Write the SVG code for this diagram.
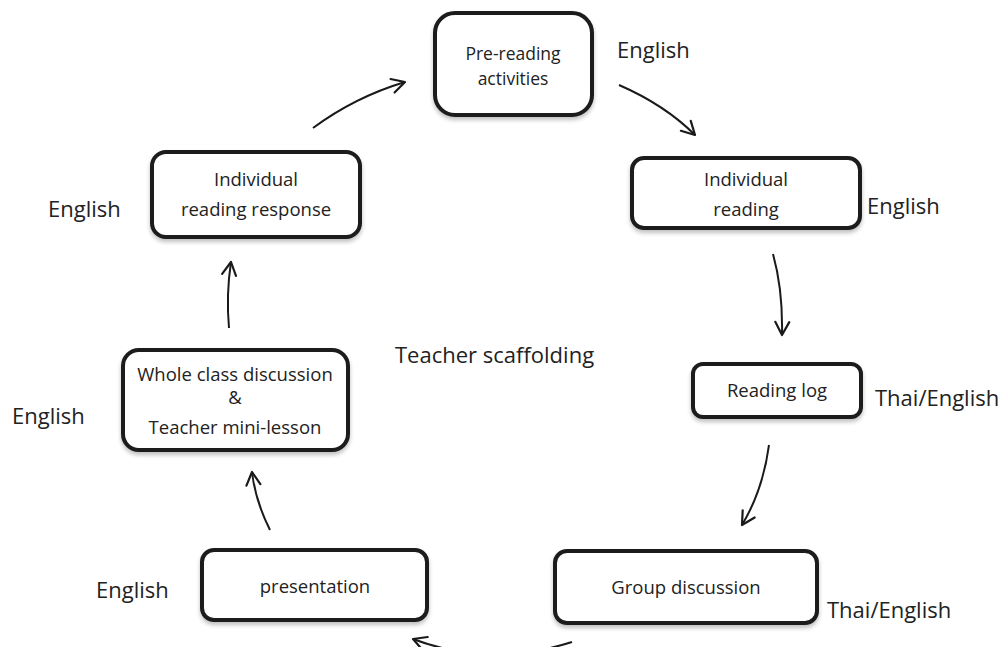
<svg xmlns="http://www.w3.org/2000/svg" width="1008" height="647" viewBox="0 0 1008 647">
<defs>
<filter id="sh" x="-10%" y="-10%" width="120%" height="130%">
<feGaussianBlur in="SourceAlpha" stdDeviation="2"/>
<feOffset dx="0" dy="3" result="b"/>
<feComponentTransfer><feFuncA type="linear" slope="0.25"/></feComponentTransfer>
<feMerge><feMergeNode/><feMergeNode in="SourceGraphic"/></feMerge>
</filter>
<marker id="ah" viewBox="0 0 20 20" refX="17" refY="10" markerWidth="20" markerHeight="20" markerUnits="userSpaceOnUse" orient="auto">
<path d="M4,3 L17,10 L4,17" fill="none" stroke="#1a1a1a" stroke-width="2.2" stroke-linecap="round" stroke-linejoin="round"/>
</marker>
</defs>
<style>
.box{fill:#fff;stroke:#1c1c1c;stroke-width:4}
.t{font-family:"Open Sans","Liberation Sans",sans-serif;font-size:18.5px;fill:#222;text-anchor:middle}
.s{font-size:17.5px}
.l{font-family:"Open Sans","Liberation Sans",sans-serif;font-size:22px;fill:#222}
.c{fill:none;stroke:#1a1a1a;stroke-width:2;marker-end:url(#ah)}
</style>
<rect width="1008" height="647" fill="#fff"/>
<g id="pre-reading">
<rect class="box" x="435" y="13" width="157" height="102" rx="20" filter="url(#sh)"/>
<text class="t s" x="513" y="60">Pre-reading</text>
<text class="t s" x="513" y="85">activities</text>
</g>
<g id="individual-reading">
<rect class="box" x="632" y="158" width="228" height="70" rx="12" filter="url(#sh)"/>
<text class="t" x="746" y="186">Individual</text>
<text class="t" x="746" y="216">reading</text>
</g>
<g id="reading-log">
<rect class="box" x="693" y="364" width="168" height="53" rx="10" filter="url(#sh)"/>
<text class="t" x="777" y="397">Reading log</text>
</g>
<g id="group-discussion">
<rect class="box" x="555" y="551" width="262" height="72" rx="12" filter="url(#sh)"/>
<text class="t" x="686" y="594">Group discussion</text>
</g>
<g id="presentation">
<rect class="box" x="202" y="550" width="225" height="70" rx="12" filter="url(#sh)"/>
<text class="t" x="315" y="593">presentation</text>
</g>
<g id="whole-class">
<rect class="box" x="123" y="350" width="225" height="100" rx="16" filter="url(#sh)"/>
<text class="t" x="235" y="381">Whole class discussion</text>
<text class="t" x="235" y="404">&amp;</text>
<text class="t" x="235" y="434">Teacher mini-lesson</text>
</g>
<g id="individual-reading-response">
<rect class="box" x="152" y="152" width="208" height="85" rx="14" filter="url(#sh)"/>
<text class="t" x="256" y="186">Individual</text>
<text class="t" x="256" y="216">reading response</text>
</g>
<g id="labels">
<text class="l" x="617" y="58">English</text>
<text class="l" x="867" y="214">English</text>
<text class="l" x="48" y="217">English</text>
<text class="l" x="12" y="424">English</text>
<text class="l" x="875" y="406">Thai/English</text>
<text class="l" x="96" y="598">English</text>
<text class="l" x="827" y="618">Thai/English</text>
<text class="l" x="395" y="363">Teacher scaffolding</text>
</g>
<g id="connectors">
<path class="c" d="M313,128 Q355,97 405,82"/>
<path class="c" d="M619,85 Q665,105 695,135"/>
<path class="c" d="M773,254 Q783,290 782,335"/>
<path class="c" d="M769,445 Q763,490 742,525"/>
<path class="c" d="M572,642 Q490,668 413,639"/>
<path class="c" d="M270,530 Q255,500 252,472"/>
<path class="c" d="M229,328 Q226,295 231,262"/>
</g>
</svg>
